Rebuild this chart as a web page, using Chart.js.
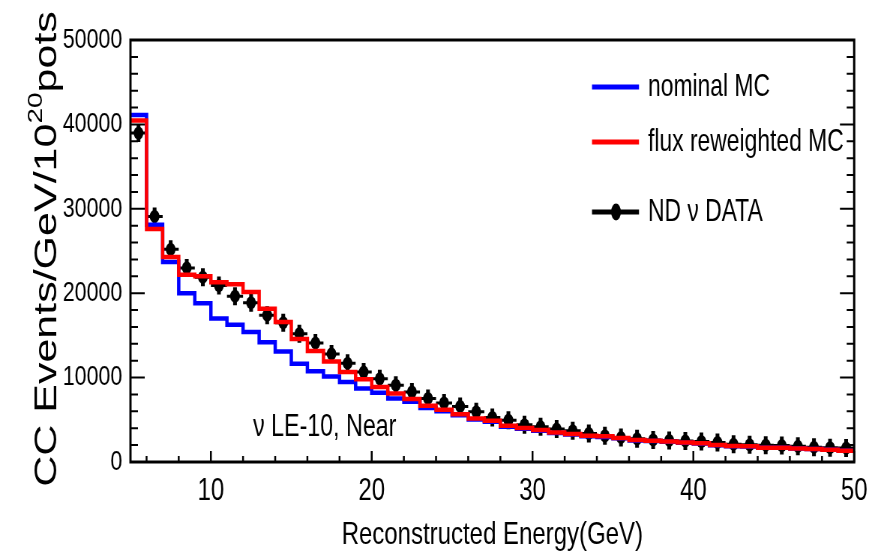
<!DOCTYPE html>
<html><head><meta charset="utf-8">
<script src="https://cdn.jsdelivr.net/npm/chart.js@4/dist/chart.umd.min.js"></script>
<style>html,body{margin:0;padding:0;background:#fff;} canvas{display:block;}</style>
</head><body>
<canvas id="c" width="1167" height="557" style="width:875px;height:557px"></canvas>
<script>
// ---- data ----
const binEdges = [5,6,7,8,9,10,11,12,13,14,15,16,17,18,19,20,21,22,23,24,25,26,27,28,29,30,31,32,33,34,35,36,37,38,39,40,41,42,43,44,45,46,47,48,49,50];
const nominalMC = [41100,28100,23700,20000,18800,17000,16250,15400,14200,13100,11650,10750,10130,9490,8710,8200,7530,7130,6400,6000,5550,5050,4780,4170,3950,3700,3450,3250,3060,2950,2800,2560,2480,2400,2290,2180,1990,1880,1840,1690,1690,1600,1530,1450,1330];
const fluxReweightedMC = [40450,27600,24300,22200,22000,21300,21050,20130,18170,16590,14580,13160,11900,10650,9800,8900,8120,7450,6650,6180,5670,5150,4880,4290,4020,3780,3510,3310,3110,3050,2840,2600,2520,2440,2320,2210,2010,1900,1860,1700,1700,1610,1540,1460,1340];
const ndData = [38970,29100,25200,23000,21900,20900,19650,18870,17400,16500,15200,14100,12800,11700,10650,9850,9100,8300,7530,7000,6580,5950,5280,4960,4410,4170,3900,3700,3390,3100,2900,2750,2620,2560,2500,2420,2320,2100,2030,1990,1950,1860,1750,1700,1650];
const xTickLabels = [10,20,30,40,50];
const yTickLabels = [0,10000,20000,30000,40000,50000];
const seriesNames = ['nominal MC','flux reweighted MC','ND \u03bd DATA'];
const annotationText = '\u03bd LE-10, Near';
const xTitle = 'Reconstructed Energy(GeV)';
const yTitleParts = ['CC Events/GeV/10','20','pots'];

// ---- helpers ----
const SX = 875/1167; // the drawing is squeezed horizontally, like the reference
const FONT = "'Liberation Sans', Arial, Helvetica, sans-serif";
function histPoints(vals){
  const pts = vals.map((v,i)=>({x:binEdges[i], y:v}));
  pts.push({x:binEdges[vals.length], y:vals[vals.length-1]});
  return pts;
}
const dataPoints = ndData.map((v,i)=>({x:(binEdges[i]+binEdges[i+1])/2, y:v}));

const errorBars = {
  id:'errorBars',
  beforeDatasetsDraw(chart){
    const {ctx, chartArea:a, scales:{x,y}} = chart;
    ctx.save();
    ctx.beginPath(); ctx.rect(a.left,a.top,a.right-a.left,a.bottom-a.top); ctx.clip();
    ctx.strokeStyle='#000';
    ndData.forEach((v,i)=>{
      const py = y.getPixelForValue(v);
      ctx.lineWidth = 3;
      ctx.beginPath();
      ctx.moveTo(x.getPixelForValue(binEdges[i]), py);
      ctx.lineTo(x.getPixelForValue(binEdges[i+1]), py);
      ctx.stroke();
      const px = x.getPixelForValue((binEdges[i]+binEdges[i+1])/2);
      ctx.lineWidth = 5;
      ctx.beginPath();
      ctx.moveTo(px, py-9); ctx.lineTo(px, py+9);
      ctx.stroke();
    });
    ctx.restore();
  }
};

const frame = {
  id:'frame',
  afterDatasetsDraw(chart){
    const {ctx, chartArea:a, scales:{x,y}} = chart;
    ctx.save();
    ctx.strokeStyle='#000';
    ctx.lineWidth = 2;
    ctx.beginPath();
    for (let v=0; v<=50000; v+=2000){
      const py = y.getPixelForValue(v);
      const len = (v%10000===0) ? 19 : 10;
      ctx.moveTo(a.left, py); ctx.lineTo(a.left+len, py);
      ctx.moveTo(a.right, py); ctx.lineTo(a.right-len, py);
    }
    ctx.stroke();
    ctx.lineWidth = 2.5;
    ctx.beginPath();
    for (let v=6; v<=50; v+=2){
      const px = x.getPixelForValue(v);
      const len = (v%10===0) ? 11 : 6;
      ctx.moveTo(px, a.bottom); ctx.lineTo(px, a.bottom-len);
    }
    ctx.stroke();
    ctx.lineWidth = 3;
    ctx.strokeRect(a.left, a.top, a.right-a.left, a.bottom-a.top);
    ctx.restore();
  }
};

const texts = {
  id:'texts',
  afterDraw(chart){
    const {ctx} = chart;
    ctx.save();
    ctx.fillStyle='#000';
    // legend
    const colors = ['#0000ff','#ff0000','#000000'];
    const rows = [87,142,212];
    ctx.font = '30.5px '+FONT;
    ctx.textBaseline='middle'; ctx.textAlign='left';
    seriesNames.forEach((name,i)=>{
      ctx.strokeStyle = colors[i]; ctx.lineWidth = 5;
      ctx.beginPath(); ctx.moveTo(592/SX, rows[i]); ctx.lineTo(639/SX, rows[i]); ctx.stroke();
      if (i===2){
        ctx.beginPath(); ctx.ellipse(616/SX, rows[i], 6.5, 8.5, 0, 0, Math.PI*2); ctx.fillStyle='#000'; ctx.fill();
      }
      ctx.fillStyle='#000';
      ctx.fillText(name, 648/SX, rows[i]+1);
    });
    // annotation
    ctx.font = '31px '+FONT;
    ctx.fillText(annotationText, 253/SX, 427);
    // y title with superscript
    const big = '43px '+FONT, small = '28px '+FONT;
    ctx.font = big; const w1 = ctx.measureText(yTitleParts[0]).width, w3 = ctx.measureText(yTitleParts[2]).width;
    ctx.font = small; const w2 = ctx.measureText(yTitleParts[1]).width;
    const total = w1+w2+w3;
    ctx.translate(56/SX, 249 + total/2);
    ctx.rotate(-Math.PI/2);
    ctx.textBaseline='alphabetic';
    ctx.font = big; ctx.fillText(yTitleParts[0], 0, 0);
    ctx.font = small; ctx.fillText(yTitleParts[1], w1, -19);
    ctx.font = big; ctx.fillText(yTitleParts[2], w1+w2, 0);
    ctx.restore();
  }
};

new Chart(document.getElementById('c'), {
  type:'line',
  data:{datasets:[
    {label:seriesNames[1], data:histPoints(fluxReweightedMC), borderColor:'#ff0000', borderWidth:4.5, stepped:true, pointRadius:0, order:0, fill:false},
    {label:seriesNames[0], data:histPoints(nominalMC), borderColor:'#0000ff', borderWidth:4.5, stepped:true, pointRadius:0, order:1, fill:false},
    {label:seriesNames[2], data:dataPoints, showLine:false, pointRadius:6.5, pointBackgroundColor:'#000', pointBorderColor:'#000', pointBorderWidth:0, order:2}
  ]},
  options:{
    responsive:false, animation:false, devicePixelRatio:1,
    layout:{padding:{top:40,right:27,left:0,bottom:0}},
    plugins:{legend:{display:false}, tooltip:{enabled:false}},
    scales:{
      x:{type:'linear', min:5, max:50,
        afterBuildTicks:s=>{ s.ticks = xTickLabels.map(v=>({value:v})); },
        afterFit:s=>{ s.height = 95; },
        grid:{display:false, drawTicks:false}, border:{display:false},
        ticks:{color:'#000', font:{family:FONT,size:32}, padding:10, maxRotation:0, autoSkip:false, callback:v=>String(v)},
        title:{display:true, text:xTitle, color:'#000', font:{family:FONT,size:32}, padding:{top:0,bottom:3}}
      },
      y:{type:'linear', min:0, max:50000,
        afterBuildTicks:s=>{ s.ticks = yTickLabels.map(v=>({value:v})); },
        afterFit:s=>{ s.width = 174; },
        grid:{display:false, drawTicks:false}, border:{display:false},
        ticks:{color:'#000', font:{family:FONT,size:28.5}, padding:11, callback:v=>String(v)}
      }
    }
  },
  plugins:[errorBars, frame, texts]
});
</script>
</body></html>
